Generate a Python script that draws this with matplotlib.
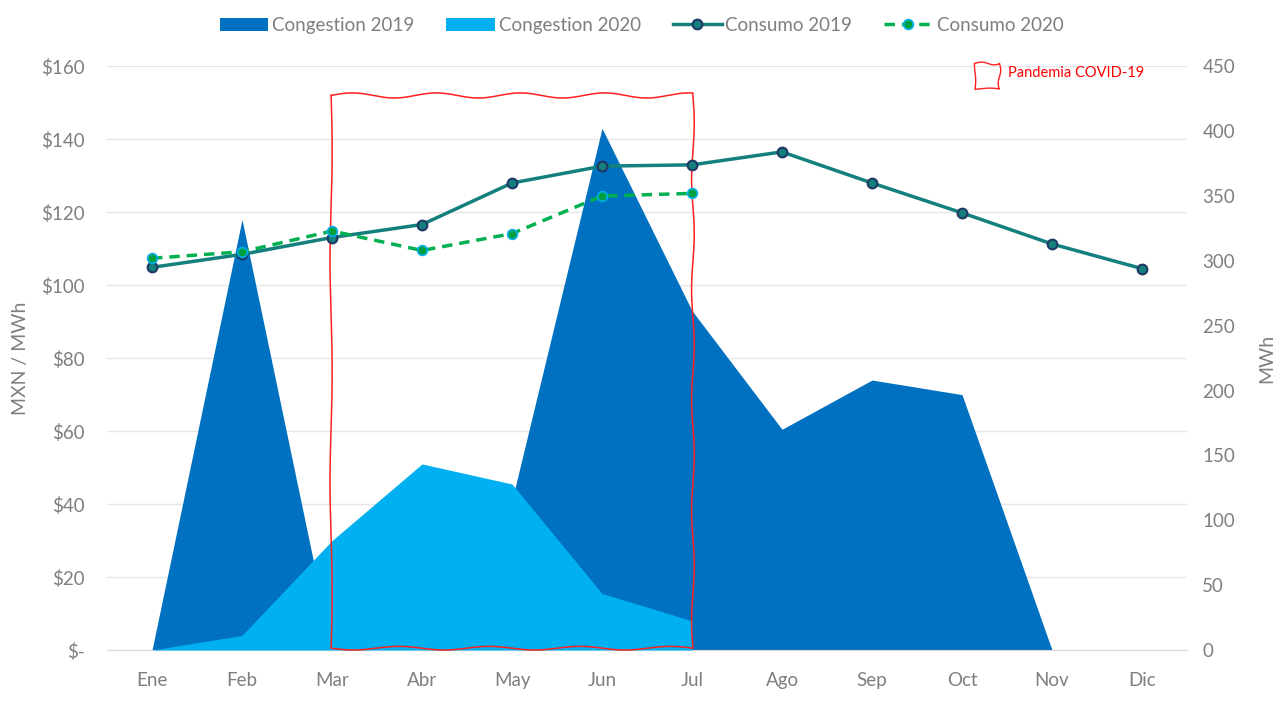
import numpy as np
import matplotlib.pyplot as plt
from matplotlib.ticker import FuncFormatter

meses = ['Ene', 'Feb', 'Mar', 'Abr', 'May', 'Jun', 'Jul', 'Ago', 'Sep', 'Oct', 'Nov', 'Dic']

# congestion ($ MXN / MWh)
congestion_2019 = [0, 118, 0, 15, 41, 143, 93, 60.5, 74, 70, 0]
congestion_2020 = [0, 4, 30, 51, 45.5, 15.5, 8]

# consumo (MWh)
consumo_2019 = [295, 305, 318, 328, 360, 373, 374, 384, 360, 337, 313, 294]
consumo_2020 = [302, 307, 323, 308, 321, 350, 352]

gris = '#7f7f7f'
plt.rcParams['font.family'] = ['Lato', 'DejaVu Sans']

fig = plt.figure(figsize=(12.83, 7.05), dpi=100)
ax = fig.add_axes([0.0834, 0.078, 0.8418, 0.828])
ax2 = ax.twinx()

x19 = np.arange(len(congestion_2019))
x20 = np.arange(len(congestion_2020))
ax.fill_between(x19, 0, congestion_2019, color='#0070c0', lw=0, label='Congestion 2019', zorder=2)
ax.fill_between(x20, 0, congestion_2020, color='#00b0f0', lw=0, label='Congestion 2020', zorder=3)

ax.set_xlim(-0.5, 11.5)
ax.set_ylim(0, 160)
ax.set_yticks(np.arange(0, 161, 20))
ax.yaxis.set_major_formatter(FuncFormatter(lambda v, p: '$-' if v == 0 else '$%d' % v))
ax.set_xticks(range(12))
ax.set_xticklabels(meses)
ax.grid(axis='y', color='#e6e6e6', lw=1, zorder=0)
ax.set_axisbelow(True)
ax.set_ylabel('MXN / MWh', color=gris, fontsize=14)
ax.yaxis.set_label_coords(-0.072, 0.5)

l1, = ax2.plot(range(12), consumo_2019, color='#13807e', lw=2.5, marker='o', ms=7,
               mfc='#13807e', mec='#1f3864', mew=1.5, label='Consumo 2019', zorder=5)
l2, = ax2.plot(range(7), consumo_2020, color='#00b050', lw=2.5, ls=(0, (3, 2)), marker='o', ms=7,
               mfc='#00a040', mec='#00b0f0', mew=1.2, label='Consumo 2020', zorder=6)
ax2.set_ylim(0, 450)
ax2.set_yticks(np.arange(0, 451, 50))
ax2.set_ylabel('MWh', color=gris, fontsize=14)
ax2.yaxis.set_label_coords(1.066, 0.5)

for a in (ax, ax2):
    for s in a.spines.values():
        s.set_visible(False)
    a.tick_params(length=0, colors=gris, labelsize=13.5)
ax.tick_params(axis='x', pad=16)
ax.tick_params(axis='y', pad=16)
ax2.tick_params(axis='y', pad=11)
ax.spines['bottom'].set_visible(True)
ax.spines['bottom'].set_color('#d9d9d9')

# recuadro a mano alzada
t = np.linspace(0, 1, 200)
x0, x1, y0, y1 = 1.99, 6.01, 0.5, 152
top_x = x0 + (x1 - x0) * t
top_y = y1 + 0.7 * np.sin(t * 2 * np.pi * 4.3)
right_y = y1 - (y1 - y0) * t
right_x = x1 + 0.015 * np.sin(t * 2 * np.pi * 5)
bot_x = x1 - (x1 - x0) * t
bot_y = y0 + 0.5 * np.sin(t * 2 * np.pi * 4)
left_y = y0 + (y1 - y0) * t
left_x = x0 + 0.012 * np.sin(t * 2 * np.pi * 2.5)
px = np.concatenate([top_x, right_x, bot_x, left_x])
py = np.concatenate([top_y, right_y, bot_y, left_y])
ax.plot(px, py, color='#ff2020', lw=1.1, zorder=7, clip_on=False)

# leyenda de la pandemia
sq = np.linspace(0, 1, 50)
fx = 0.760 + np.concatenate([0.019 * sq, 0.019 + 0.001 * np.sin(sq * 6), 0.019 * (1 - sq), 0.0005 * np.sin(sq * 5)])
fy = 0.910 + np.concatenate([0.002 * np.sin(sq * 6), -0.036 * sq, -0.036 + 0.001 * np.sin(sq * 4), -0.036 * (1 - sq)])
fig.add_artist(plt.Line2D(fx, fy, color='#ff2020', lw=1, transform=fig.transFigure))
fig.text(0.786, 0.896, 'Pandemia COVID-19', color='#ff0000', fontsize=10.5, va='center')

h1, lab1 = ax.get_legend_handles_labels()
fig.legend(h1 + [l1, l2], lab1 + ['Consumo 2019', 'Consumo 2020'], loc='upper center',
           bbox_to_anchor=(0.5, 1.0), ncol=4, frameon=False, fontsize=13.5,
           labelcolor=gris, handlelength=2.6, handletextpad=0.2, columnspacing=1.7)

fig.savefig('out.png', dpi=100)
